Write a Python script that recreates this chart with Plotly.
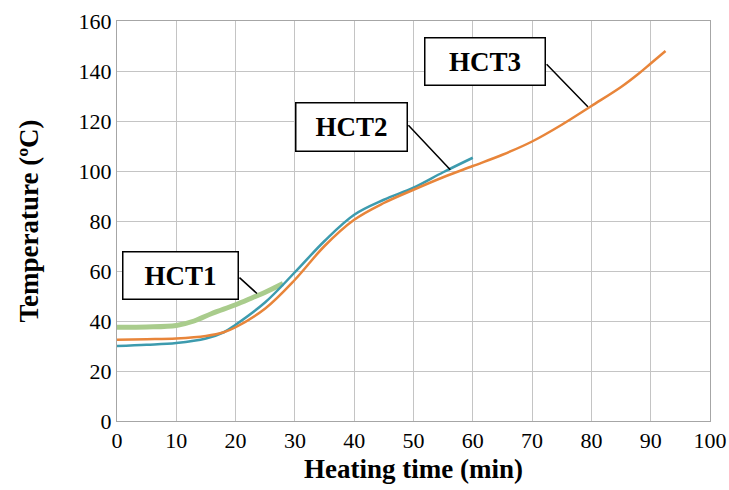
import plotly.graph_objects as go

# HCT1 (green)
hct1_t = [0, 5, 10, 13, 16, 20, 23, 25, 28]
hct1_T = [37.5, 37.6, 38.2, 40.0, 43.0, 46.5, 49.5, 51.5, 55.0]
# HCT2 (teal)
hct2_t = [0, 5, 10, 15, 18, 20, 25, 30, 35, 40, 45, 50, 55, 60]
hct2_T = [30.0, 30.5, 31.2, 33.0, 35.5, 38.5, 47.5, 59.5, 72.0, 82.5, 88.5, 93.3, 99.5, 105.3]
# HCT3 (orange)
hct3_t = [0, 5, 10, 15, 18, 20, 25, 30, 35, 40, 45, 50, 55, 60, 65, 70, 75, 80, 85, 88, 90, 92.5]
hct3_T = [32.5, 32.7, 33.0, 34.0, 35.5, 37.5, 45.0, 56.5, 70.0, 80.5, 87.2, 92.5, 97.5, 102.0, 106.5, 111.8, 118.5, 126.0, 133.6, 139.0, 143.0, 148.0]

x_ticks = list(range(0, 101, 10))
y_ticks = list(range(0, 161, 20))

FONT = "Liberation Serif, Times New Roman, Times, serif"

fig = go.Figure()
fig.add_trace(go.Scatter(x=hct1_t, y=hct1_T, mode="lines", line=dict(color="#A9CC8C", width=5, shape="spline"), name="HCT1"))
fig.add_trace(go.Scatter(x=hct2_t, y=hct2_T, mode="lines", line=dict(color="#3D9BAE", width=2.5, shape="spline"), name="HCT2"))
fig.add_trace(go.Scatter(x=hct3_t, y=hct3_T, mode="lines", line=dict(color="#E8853A", width=2.5, shape="spline"), name="HCT3"))

labels = [
    # text, box center (x,y), tail (x,y), tip (x,y), box w, h
    ("HCT1", (10.7, 58.1), (20.4, 57.9), (23.6, 51.0), 112, 44),
    ("HCT2", (39.5, 117.7), (48.9, 118.9), (56.2, 100.5), 108, 45),
    ("HCT3", (62.1, 144.0), (72.2, 143.3), (79.4, 125.7), 117, 44),
]
for text, c, tail, tip, w, h in labels:
    fig.add_annotation(x=tip[0], y=tip[1], ax=tail[0], ay=tail[1], axref="x", ayref="y",
                       xref="x", yref="y", text="", showarrow=True, arrowhead=0,
                       arrowwidth=1.5, arrowcolor="black")
    fig.add_annotation(x=c[0], y=c[1], xref="x", yref="y", text="<b>%s</b>" % text,
                       showarrow=False, font=dict(family=FONT, size=27, color="black"),
                       bordercolor="black", borderwidth=1.5, bgcolor="white",
                       width=w, height=h)

fig.update_layout(
    width=729, height=490,
    margin=dict(l=117, r=19, t=21, b=69),
    paper_bgcolor="white", plot_bgcolor="white",
    showlegend=False,
    font=dict(family=FONT, color="black"),
)
fig.update_xaxes(range=[0, 100], tickvals=x_ticks, ticktext=[str(v) for v in x_ticks],
                 showgrid=True, gridcolor="#C4C4C4", gridwidth=1, automargin=False,
                 showline=True, linecolor="#A6A6A6", linewidth=1, mirror=True,
                 zeroline=False, ticks="", tickfont=dict(family=FONT, size=22),
                 title=dict(text="<b>Heating time (min)</b>", font=dict(family=FONT, size=27), standoff=6))
fig.update_yaxes(range=[0, 160], tickvals=y_ticks, ticktext=[str(v) for v in y_ticks],
                 showgrid=True, gridcolor="#C4C4C4", gridwidth=1, automargin=False,
                 showline=True, linecolor="#A6A6A6", linewidth=1, mirror=True,
                 zeroline=False, ticks="", tickfont=dict(family=FONT, size=22),
                 title=dict(text="<b>Temperature (ºC)</b>", font=dict(family=FONT, size=27), standoff=32))

fig.write_html("out.html")
